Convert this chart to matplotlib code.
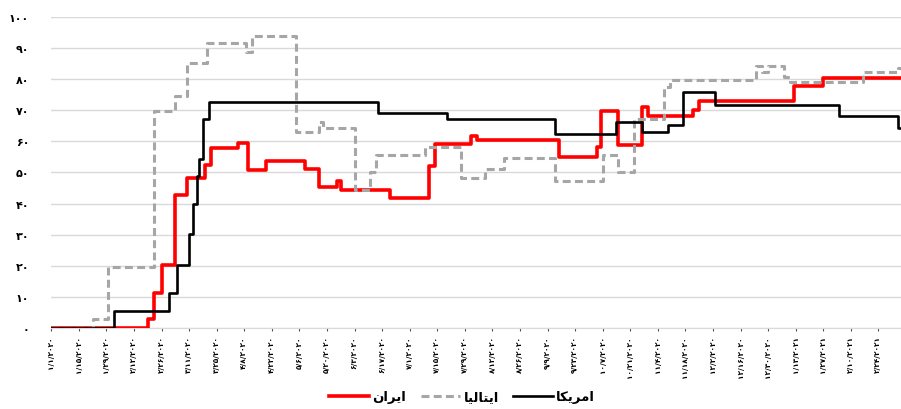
#stringency chart for iran, italy and usa
import matplotlib
matplotlib.use("Agg")
import matplotlib.pyplot as plt
import pandas as pd

# change dates and values (each value holds until the next date)
iran_dates = ["2020-01-01", "2020-02-19", "2020-02-22", "2020-02-26", "2020-03-04", "2020-03-10",
              "2020-03-19", "2020-03-22", "2020-04-05", "2020-04-10", "2020-04-19", "2020-05-09",
              "2020-05-16", "2020-05-25", "2020-05-27", "2020-06-21", "2020-07-11", "2020-07-14",
              "2020-08-01", "2020-08-04", "2020-09-15", "2020-10-04", "2020-10-06", "2020-10-15",
              "2020-10-27", "2020-10-30", "2020-11-22", "2020-11-25", "2021-01-12", "2021-01-27",
              "2021-03-08"]
iran_vals = [0, 2.78, 11.11, 20.37, 42.59, 48.15,
             52.31, 57.87, 59.5, 50.93, 53.7, 51.0,
             45.4, 47.2, 44.44, 41.67, 52.2, 59.0,
             61.8, 60.5, 54.9, 58.1, 69.7, 58.8,
             71.2, 68.3, 70.2, 73.1, 77.9, 80.3,
             80.3]

italy_dates = ["2020-01-01", "2020-01-22", "2020-01-30", "2020-02-22", "2020-03-04", "2020-03-10",
               "2020-03-20", "2020-04-09", "2020-04-12", "2020-05-04", "2020-05-16", "2020-05-18",
               "2020-06-03", "2020-06-11", "2020-06-14", "2020-07-09", "2020-07-27", "2020-08-08",
               "2020-08-18", "2020-09-13", "2020-10-07", "2020-10-15", "2020-10-23", "2020-11-07",
               "2020-11-10", "2020-12-24", "2020-12-27", "2020-12-30", "2021-01-07", "2021-01-10",
               "2021-02-16", "2021-03-06", "2021-03-08"]
italy_vals = [0, 2.78, 19.44, 69.91, 74.5, 85.2,
              91.67, 88.6, 93.98, 63.0, 66.2, 64.3,
              44.4, 50.0, 55.6, 58.3, 48.2, 51.0,
              54.8, 47.2, 55.6, 50.0, 67.1, 77.4,
              79.6, 84.3, 82.2, 84.3, 80.6, 79.2,
              82.4, 83.6, 83.6]

usa_dates = ["2020-01-01", "2020-02-02", "2020-03-01", "2020-03-05", "2020-03-11", "2020-03-13",
             "2020-03-15", "2020-03-16", "2020-03-18", "2020-03-21", "2020-06-15", "2020-07-20",
             "2020-09-13", "2020-10-14", "2020-10-27", "2020-11-09", "2020-11-17", "2020-12-03",
             "2021-02-04", "2021-03-06", "2021-03-08"]
usa_vals = [0, 5.56, 11.11, 20.37, 30.1, 39.8,
            49.0, 54.3, 67.1, 72.69, 68.98, 67.13,
            62.5, 66.2, 62.96, 65.3, 75.9, 71.76,
            68.06, 64.35, 64.35]

names = ["\ufee5\ufe8d\ufeae\ufef3\ufe8d",                  # ایران
         "\ufe8e\ufef4\ufedf\ufe8e\ufe98\ufef3\ufe8d",      # ایتالیا
         "\ufe8e\ufedc\ufef3\ufeae\ufee3\ufe8d"]            # امریکا

fa = str.maketrans("0123456789", "۰۱۲۳۴۵۶۷۸۹")

def persian(s):
    return str(s).translate(fa)

tick_dates = pd.date_range("2020-01-01", periods=31, freq="14D")
tick_labels = [persian(f"{d.month}/{d.day}/{d.year}") for d in tick_dates]
y_ticks = list(range(0, 101, 10))

plt.rcParams['font.family'] = ['DejaVu Sans']
fig = plt.figure(figsize=(9.01, 4.10), dpi=100)
ax = fig.add_axes([0.057, 0.198, 0.943, 0.758])

ax.step(pd.to_datetime(iran_dates), iran_vals, where="post", color="#ff0000", lw=2.6, label=names[0], zorder=3)
ax.step(pd.to_datetime(italy_dates), italy_vals, where="post", color="#a6a6a6", lw=2.2,
        dashes=(2.6, 1.4), dash_capstyle="butt", label=names[1], zorder=4)
ax.step(pd.to_datetime(usa_dates), usa_vals, where="post", color="#000000", lw=1.9, label=names[2], zorder=5)

ax.set_ylim(0, 100)
ax.set_xlim(pd.Timestamp("2020-01-01"), pd.Timestamp("2020-01-01") + pd.Timedelta(days=431.5))
ax.set_yticks(y_ticks)
ax.set_yticklabels([persian(v) for v in y_ticks], fontsize=8, fontweight="bold")
ax.set_xticks(tick_dates)
ax.set_xticklabels(tick_labels, rotation=90, fontsize=5.3, fontweight="bold")
ax.tick_params(axis="y", length=0, pad=16)
ax.tick_params(axis="x", length=2.5, width=0.8, color="#555555", pad=3)
ax.grid(axis="y", color="#d9d9d9", lw=1)
for s in ["top", "right", "left"]:
    ax.spines[s].set_visible(False)
ax.spines["bottom"].set_color("#d9d9d9")

fig.legend(loc="center", bbox_to_anchor=(0.513, 0.03), ncol=3, frameon=False,
           prop={"size": 9.5, "weight": "bold"}, handlelength=3.0, columnspacing=1.1, handletextpad=0.25)

fig.savefig("out.png", dpi=100)
